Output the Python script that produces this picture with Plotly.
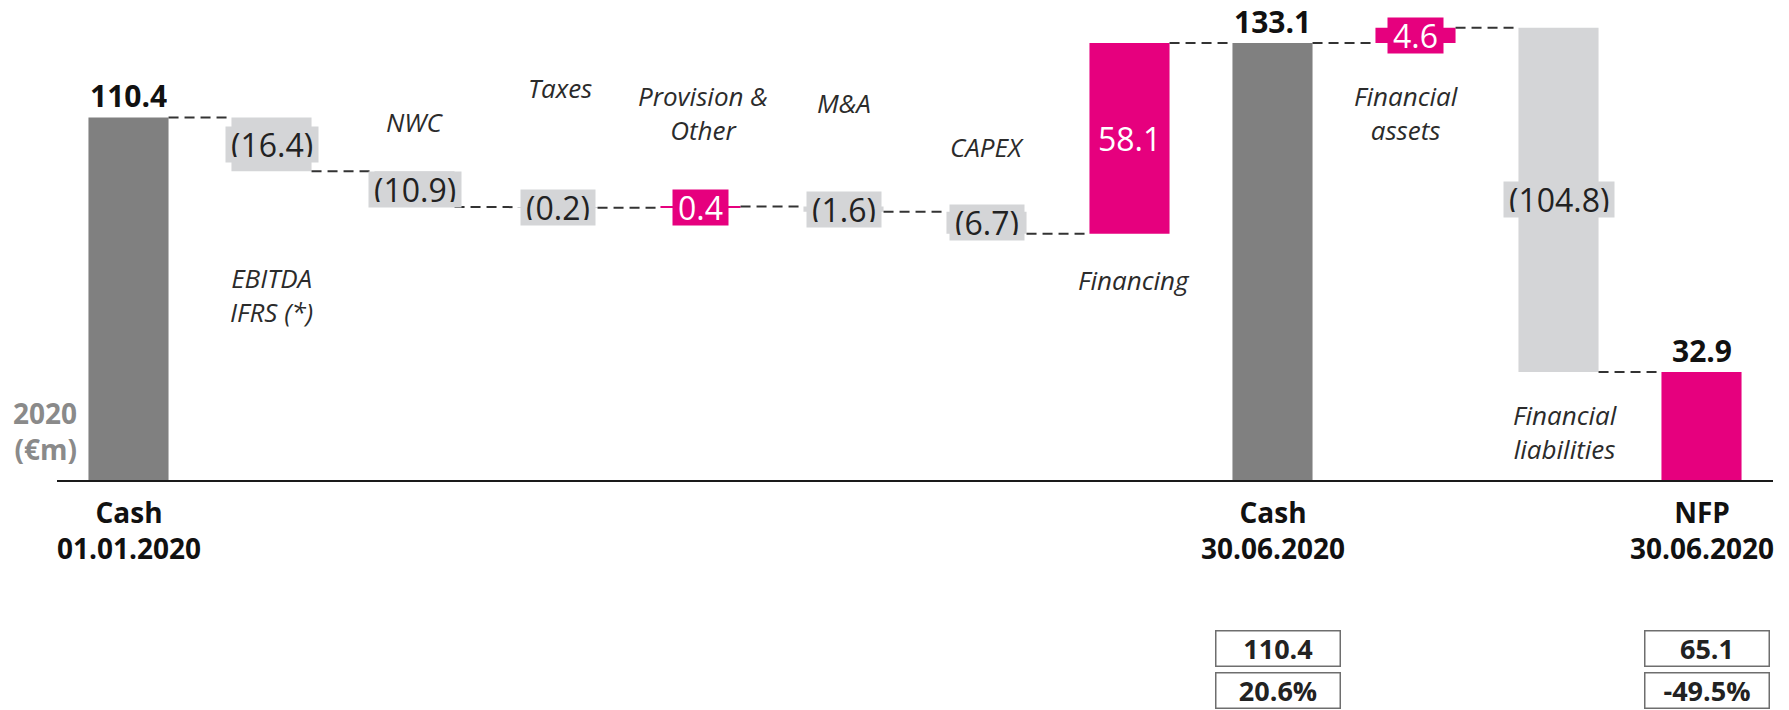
import plotly.graph_objects as go

# ---- data -------------------------------------------------------------
categories = [
    "Cash\n01.01.2020", "EBITDA\nIFRS (*)", "NWC", "Taxes", "Provision &\nOther",
    "M&A", "CAPEX", "Financing", "Cash\n30.06.2020", "Financial\nassets",
    "Financial\nliabilities", "NFP\n30.06.2020",
]
values = [110.4, -16.4, -10.9, -0.2, 0.4, -1.6, -6.7, 58.1, 133.1, 4.6, -104.8, 32.9]
measures = ["total", "relative", "relative", "relative", "relative", "relative",
            "relative", "relative", "total", "relative", "relative", "total"]

# comparison boxes under the closing columns
compare_for = ["Cash\n30.06.2020", "NFP\n30.06.2020"]
compare_values = [110.4, 65.1]
compare_change = [20.6, -49.5]

# ---- styling ----------------------------------------------------------
DARK = "#808080"
LIGHT = "#d4d5d7"
MAGENTA = "#e6007e"
FONT = "Open Sans"
BAR_W = 0.56

W, H = 1789, 710
M_L, M_R, M_T, M_B = 57, 16, 20, 230
PLOT_H = H - M_T - M_B
PLOT_BOTTOM = H - M_B
Y_MAX = PLOT_H / 3.284


def paper_y(py):
    return (PLOT_BOTTOM - py) / PLOT_H


def paper_x(px):
    return (px - M_L) / (W - M_L - M_R)


def html(s):
    return s.replace("\n", "<br>")


# italic captions for the movement columns: (x offset, y in data units)
caption_pos = {
    "EBITDA\nIFRS (*)": (0.0, 56.3),
    "NWC": (0.0, 109.0),
    "Taxes": (0.02, 119.4),
    "Provision &\nOther": (0.02, 111.9),
    "M&A": (0.0, 114.8),
    "CAPEX": (0.0, 101.4),
    "Financing": (0.03, 60.9),
    "Financial\nassets": (-0.06, 111.9),
    "Financial\nliabilities": (0.05, 14.5),
}

# ---- waterfall geometry from the values ------------------------------
x_idx = list(range(len(categories)))
bases, heights, colors, levels = [], [], [], []
running = 0.0
for name, v, m in zip(categories, values, measures):
    if m == "total":
        running = v
        bases.append(0.0)
        heights.append(v)
        colors.append(MAGENTA if name.startswith("NFP") else DARK)
    else:
        start, end = running, running + v
        bases.append(min(start, end))
        heights.append(abs(v))
        colors.append(MAGENTA if v > 0 else LIGHT)
        running = end
    levels.append(round(running, 1))

fig = go.Figure(go.Bar(
    x=x_idx, y=heights, base=bases, width=BAR_W,
    marker=dict(color=colors, line=dict(width=0)),
    hoverinfo="skip",
))

# dashed connectors between consecutive columns
shapes = []
for i in range(len(categories) - 1):
    shapes.append(dict(
        type="line", xref="x", yref="y",
        x0=i + BAR_W / 2, x1=i + 1 - BAR_W / 2, y0=levels[i], y1=levels[i],
        line=dict(color="#333333", width=2, dash="10px,6px"),
        layer="above",
    ))

annotations = []
for i, (name, v, m) in enumerate(zip(categories, values, measures)):
    if m == "total":
        # bold value above the column
        annotations.append(dict(
            x=i, y=v, xref="x", yref="y", text=f"<b>{v:.1f}</b>",
            showarrow=False, yanchor="bottom", yshift=5, height=30,
            font=dict(family=FONT, size=30, color="#111111"),
        ))
        # bold category name below the axis
        annotations.append(dict(
            x=i, y=paper_y(529.5), xref="x", yref="paper",
            text="<b>" + html(name) + "</b>", showarrow=False,
            yanchor="middle", align="center",
            font=dict(family=FONT, size=28, color="#111111"),
        ))
    else:
        txt = f"({abs(v):.1f})" if v < 0 else f"{v:.1f}"
        fg = "#ffffff" if v > 0 else "#222222"
        annotations.append(dict(
            x=i, y=bases[i] + heights[i] / 2, xref="x", yref="y", text=txt,
            showarrow=False, bgcolor=colors[i], borderpad=5, height=25,
            yanchor="middle",
            font=dict(family=FONT, size=32, color=fg),
        ))
        dx, cy = caption_pos[name]
        annotations.append(dict(
            x=i + dx, y=cy, xref="x", yref="y", text="<i>" + html(name) + "</i>",
            showarrow=False, align="center", yanchor="middle",
            font=dict(family=FONT, size=26, color="#2b2b2b"),
        ))

# unit label at the left of the axis
annotations.append(dict(
    x=paper_x(79), y=paper_y(430.5), xref="paper", yref="paper",
    text="<b>2020<br>(€m)</b>", showarrow=False, xanchor="right", align="right",
    yanchor="middle",
    font=dict(family=FONT, size=28, color="#8a8a8a"),
))

# comparison boxes
for name, cv, cc in zip(compare_for, compare_values, compare_change):
    i = categories.index(name)
    for text, py in ((f"{cv:.1f}", 648.5), (f"{cc:.1f}%", 690.5)):
        annotations.append(dict(
            x=i, y=paper_y(py), xref="x", yref="paper", xshift=5,
            yanchor="middle",
            text=f"<b>{text}</b>", showarrow=False,
            width=119, height=30, borderpad=2, borderwidth=1.5,
            bordercolor="#6e6e6e", bgcolor="#ffffff",
            font=dict(family=FONT, size=27, color="#222222"),
        ))

fig.update_layout(
    width=W, height=H,
    margin=dict(l=M_L, r=M_R, t=M_T, b=M_B),
    plot_bgcolor="#ffffff", paper_bgcolor="#ffffff",
    showlegend=False,
    xaxis=dict(range=[-0.5, len(categories) - 0.5], showline=True,
               linecolor="#1a1a1a", linewidth=1.5, showticklabels=False,
               showgrid=False, zeroline=False, ticks=""),
    yaxis=dict(range=[0, Y_MAX], visible=False),
    shapes=shapes,
    annotations=annotations,
)

fig.write_html("out.html")
